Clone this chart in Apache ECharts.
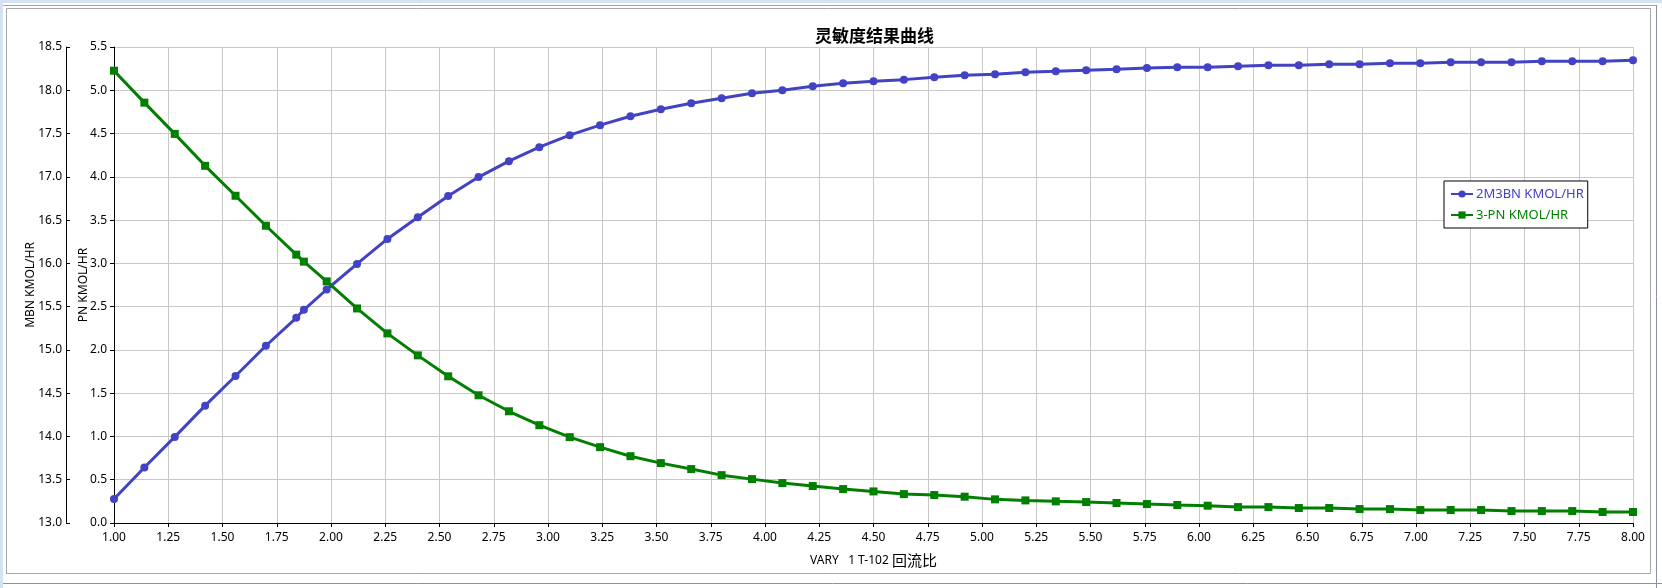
<!DOCTYPE html>
<html>
<head>
<meta charset="utf-8">
<script src="https://cdn.jsdelivr.net/npm/echarts@6/dist/echarts.min.js"></script>
<style>
html,body{margin:0;padding:0;background:#fff;}
#c{width:1662px;height:588px;}
</style>
</head>
<body>
<div id="c"></div>
<script>
// ---- data ----
const chartTitle = '灵敏度结果曲线';
const seriesNames = ['2M3BN KMOL/HR', '3-PN KMOL/HR'];
const xValues = [1.00, 1.14, 1.28, 1.42, 1.56, 1.70, 1.84, 1.875, 1.98, 2.12, 2.26, 2.40, 2.54, 2.68, 2.82, 2.96, 3.10, 3.24,
  3.38, 3.52, 3.66, 3.80, 3.94, 4.08, 4.22, 4.36, 4.50, 4.64, 4.78, 4.92, 5.06, 5.20, 5.34, 5.48, 5.62, 5.76,
  5.90, 6.04, 6.18, 6.32, 6.46, 6.60, 6.74, 6.88, 7.02, 7.16, 7.30, 7.44, 7.58, 7.72, 7.86, 8.00];
// 2M3BN (left outer axis, MBN KMOL/HR)
const mbnValues = [13.277, 13.642, 13.995, 14.356, 14.698, 15.048, 15.371, 15.463, 15.698, 15.994, 16.282, 16.532, 16.778, 16.997,
  17.181, 17.343, 17.481, 17.597, 17.700, 17.781, 17.850, 17.908, 17.965, 18.000, 18.046, 18.081, 18.104, 18.123,
  18.150, 18.173, 18.184, 18.208, 18.219, 18.231, 18.242, 18.258, 18.265, 18.265, 18.277, 18.288, 18.288, 18.300,
  18.300, 18.311, 18.311, 18.323, 18.323, 18.323, 18.334, 18.334, 18.334, 18.346];
// 3-PN (inner axis, PN KMOL/HR)
const pnValues = [5.226, 4.857, 4.496, 4.127, 3.781, 3.435, 3.101, 3.020, 2.792, 2.479, 2.191, 1.937, 1.695, 1.476, 1.291, 1.130,
  0.992, 0.876, 0.772, 0.692, 0.623, 0.553, 0.507, 0.461, 0.427, 0.392, 0.365, 0.334, 0.323, 0.304, 0.273, 0.261,
  0.250, 0.242, 0.231, 0.219, 0.208, 0.200, 0.184, 0.184, 0.173, 0.173, 0.161, 0.161, 0.150, 0.150, 0.150, 0.138,
  0.138, 0.138, 0.127, 0.127];
const xAxisRange = [1, 8, 0.25];
const mbnAxisRange = [13, 18.5, 0.5];
const pnAxisRange = [0, 5.5, 0.5];
const xAxisNameMain = 'VARY   1 T-102 ';
const xAxisNameCn = '回流比';
const yAxisNames = ['MBN KMOL/HR', 'PN KMOL/HR'];

const BLUE = '#4242c4';
const GREEN = '#007f00';
const FONT = '"Noto Sans", "Open Sans", sans-serif';

const chart = echarts.init(document.getElementById('c'), null, {renderer: 'canvas'});

function pairs(xs, ys) { return xs.map((x, i) => [x, ys[i]]); }

const axisLineStyle = {show: true, lineStyle: {color: '#000', width: 1}};

chart.setOption({
  animation: false,
  backgroundColor: '#fff',
  textStyle: {fontFamily: FONT},
  title: {
    text: chartTitle,
    left: 810,
    top: 22,
    textStyle: {fontSize: 17, fontWeight: 'bold', color: '#000', fontFamily: '"Noto Sans CJK SC", sans-serif'}
  },
  legend: {
    orient: 'vertical',
    left: 1444,
    top: 181,
    padding: [6, 4, 6, 6],
    itemGap: 7,
    itemWidth: 22,
    itemHeight: 9,
    borderColor: '#000',
    borderWidth: 1,
    borderRadius: 0,
    backgroundColor: '#fff',
    selectedMode: false,
    textStyle: {fontSize: 13, fontFamily: FONT, padding: [0, 0, 0, -2], lineHeight: 14},
    data: [
      {name: seriesNames[0], textStyle: {color: BLUE}},
      {name: seriesNames[1], textStyle: {color: GREEN}}
    ]
  },
  graphic: [
    {type: 'rect', shape: {x: 0, y: 0, width: 1662, height: 3}, style: {fill: '#d4e2f1'}, silent: true},
    {type: 'rect', shape: {x: 0, y: 0, width: 3, height: 588}, style: {fill: '#d4e2f1'}, silent: true},
    {type: 'rect', shape: {x: 6.5, y: 8.5, width: 1644, height: 565}, style: {fill: null, stroke: '#a8a8a8', lineWidth: 1}, silent: true},
    {type: 'line', shape: {x1: 1656.5, y1: 5, x2: 1656.5, y2: 588}, style: {stroke: '#8a939c', lineWidth: 1}, silent: true},
    {type: 'line', shape: {x1: 3, y1: 583.5, x2: 1662, y2: 583.5}, style: {stroke: '#8a939c', lineWidth: 1}, silent: true},
    {type: 'line', shape: {x1: 3, y1: 5.5, x2: 1656, y2: 5.5}, style: {stroke: '#9aa4ae', lineWidth: 1}, silent: true}
  ],
  grid: {left: 114, right: 29, top: 47, bottom: 65, containLabel: false},
  xAxis: {
    type: 'value',
    min: xAxisRange[0], max: xAxisRange[1], interval: xAxisRange[2],
    name: '{a|' + xAxisNameMain + '}{b|' + xAxisNameCn + '}',
    nameLocation: 'middle',
    nameGap: 30,
    nameTextStyle: {
      rich: {
        a: {fontSize: 12, color: '#000', fontFamily: FONT},
        b: {fontSize: 15, color: '#000', fontFamily: '"Noto Sans CJK SC", sans-serif'}
      }
    },
    axisLine: axisLineStyle,
    axisTick: {show: true, inside: false, length: 4, lineStyle: {color: '#000'}},
    axisLabel: {margin: 9, fontSize: 12, color: '#000', formatter: v => v.toFixed(2)},
    splitLine: {show: true, lineStyle: {color: '#c8c8c8', width: 1}}
  },
  yAxis: [
    {
      type: 'value',
      position: 'left',
      offset: 48,
      min: mbnAxisRange[0], max: mbnAxisRange[1], interval: mbnAxisRange[2],
      name: yAxisNames[0],
      nameLocation: 'middle',
      nameRotate: 90,
      nameGap: 29,
      nameMoveOverlap: false,
      nameTextStyle: {fontSize: 12, color: '#000'},
      axisLine: axisLineStyle,
      axisTick: {show: true, inside: true, length: 4, lineStyle: {color: '#000'}},
      axisLabel: {margin: 4, fontSize: 12, color: '#000', formatter: v => v.toFixed(1)},
      splitLine: {show: false}
    },
    {
      type: 'value',
      position: 'left',
      offset: 0,
      min: pnAxisRange[0], max: pnAxisRange[1], interval: pnAxisRange[2],
      name: yAxisNames[1],
      nameLocation: 'middle',
      nameRotate: 90,
      nameGap: 24,
      nameMoveOverlap: false,
      nameTextStyle: {fontSize: 12, color: '#000'},
      axisLine: axisLineStyle,
      axisTick: {show: true, inside: false, length: 4, lineStyle: {color: '#000'}},
      axisLabel: {margin: 7, fontSize: 12, color: '#000', formatter: v => v.toFixed(1)},
      splitLine: {show: true, lineStyle: {color: '#c8c8c8', width: 1}}
    }
  ],
  series: [
    {
      name: seriesNames[0],
      type: 'line',
      yAxisIndex: 0,
      data: pairs(xValues, mbnValues),
      symbol: 'circle',
      symbolSize: 8,
      showAllSymbol: true,
      lineStyle: {color: BLUE, width: 3},
      itemStyle: {color: BLUE, borderWidth: 0}
    },
    {
      name: seriesNames[1],
      type: 'line',
      yAxisIndex: 1,
      data: pairs(xValues, pnValues),
      symbol: 'rect',
      symbolSize: 8,
      showAllSymbol: true,
      lineStyle: {color: GREEN, width: 3},
      itemStyle: {color: GREEN, borderWidth: 0}
    }
  ]
});
</script>
</body>
</html>
